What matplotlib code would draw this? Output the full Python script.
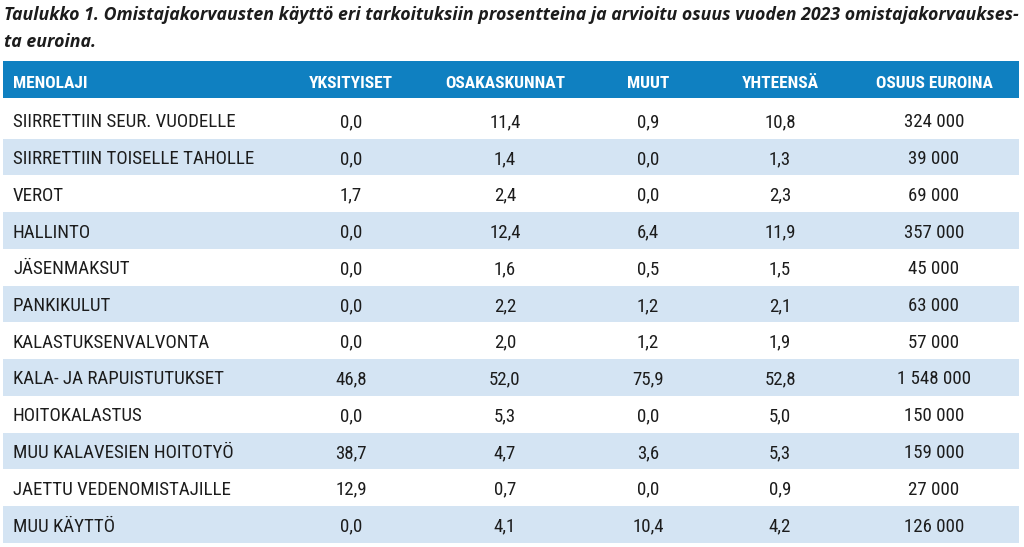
import matplotlib
matplotlib.use('Agg')
from matplotlib import pyplot as plt
from matplotlib import font_manager as fm

title_lines = ['Taulukko 1. Omistajakorvausten käyttö eri tarkoituksiin prosentteina ja arvioitu osuus vuoden 2023 omistajakorvaukses-',
               'ta euroina.']
columns = ['MENOLAJI', 'YKSITYISET', 'OSAKASKUNNAT', 'MUUT', 'YHTEENSÄ', 'OSUUS EUROINA']
categories = ['SIIRRETTIIN SEUR. VUODELLE', 'SIIRRETTIIN TOISELLE TAHOLLE', 'VEROT', 'HALLINTO',
              'JÄSENMAKSUT', 'PANKIKULUT', 'KALASTUKSENVALVONTA', 'KALA- JA RAPUISTUTUKSET',
              'HOITOKALASTUS', 'MUU KALAVESIEN HOITOTYÖ', 'JAETTU VEDENOMISTAJILLE', 'MUU KÄYTTÖ']
yksityiset = [0.0, 0.0, 1.7, 0.0, 0.0, 0.0, 0.0, 46.8, 0.0, 38.7, 12.9, 0.0]
osakaskunnat = [11.4, 1.4, 2.4, 12.4, 1.6, 2.2, 2.0, 52.0, 5.3, 4.7, 0.7, 4.1]
muut = [0.9, 0.0, 0.0, 6.4, 0.5, 1.2, 1.2, 75.9, 0.0, 3.6, 0.0, 10.4]
yhteensa = [10.8, 1.3, 2.3, 11.9, 1.5, 2.1, 1.9, 52.8, 5.0, 5.3, 0.9, 4.2]
euroina = [324000, 39000, 69000, 357000, 45000, 63000, 57000, 1548000, 150000, 159000, 27000, 126000]

# pick a narrow font if there is one
names = {f.name for f in fm.fontManager.ttflist}
family = 'DejaVu Sans'
for cand in ['Liberation Sans Narrow', 'DejaVu Sans Condensed', 'Roboto Condensed']:
    if cand in names:
        family = cand
        break
stretch = 'condensed' if family == 'DejaVu Sans' else 'normal'
title_family = 'Open Sans' if 'Open Sans' in names else 'DejaVu Sans'

HEADER_BLUE = '#0f80c1'
BAND_BLUE = '#d4e4f3'
TEXT = '#1c1c1c'


def pct(v):
    return f'{v:.1f}'.replace('.', ',')


def euros(v):
    return f'{v:,}'.replace(',', ' ')


fig = plt.figure(figsize=(10.24, 5.47), dpi=100)
ax = fig.add_axes([0, 0, 1, 1])
ax.set_xlim(0, 1024)
ax.set_ylim(547, 0)
ax.axis('off')

left, right = 2.5, 1019
header_top, header_bottom = 61, 98
row_top, row_h = 101.75, 36.75
col_x = [13, 351, 505, 648, 780, 934]

# title: size the first line so it spans the width like the original
title_texts = []
for k, line in enumerate(title_lines):
    t = ax.text(4, 20 + k * 27, line, fontsize=12, fontstyle='italic', fontweight='bold',
                family=title_family, color=TEXT, va='baseline', ha='left')
    title_texts.append(t)
renderer = fig.canvas.get_renderer()
w = title_texts[0].get_window_extent(renderer).width
size = min(13.5, 12 * 1014 / w)
for t in title_texts:
    t.set_fontsize(size)

ax.barh((header_top + header_bottom) / 2, right - left, height=header_bottom - header_top,
        left=left, color=HEADER_BLUE)
for j, col in enumerate(columns):
    ax.text(col_x[j], 88.5, col, color='white', fontsize=12.5,
            fontweight='bold', family=family, fontstretch=stretch,
            ha='left' if j == 0 else 'center', va='baseline')

for i, cat in enumerate(categories):
    top = row_top + i * row_h
    if i % 2 == 1:
        ax.barh(top + row_h / 2, right - left, height=row_h, left=left, color=BAND_BLUE)
    cells = [cat, pct(yksityiset[i]), pct(osakaskunnat[i]), pct(muut[i]),
             pct(yhteensa[i]), euros(euroina[i])]
    for j, c in enumerate(cells):
        ax.text(col_x[j], top + 25.5, c, color=TEXT, fontsize=13.6, family=family,
                fontstretch=stretch, ha='left' if j == 0 else 'center', va='baseline')

fig.savefig('out.png', dpi=100)
